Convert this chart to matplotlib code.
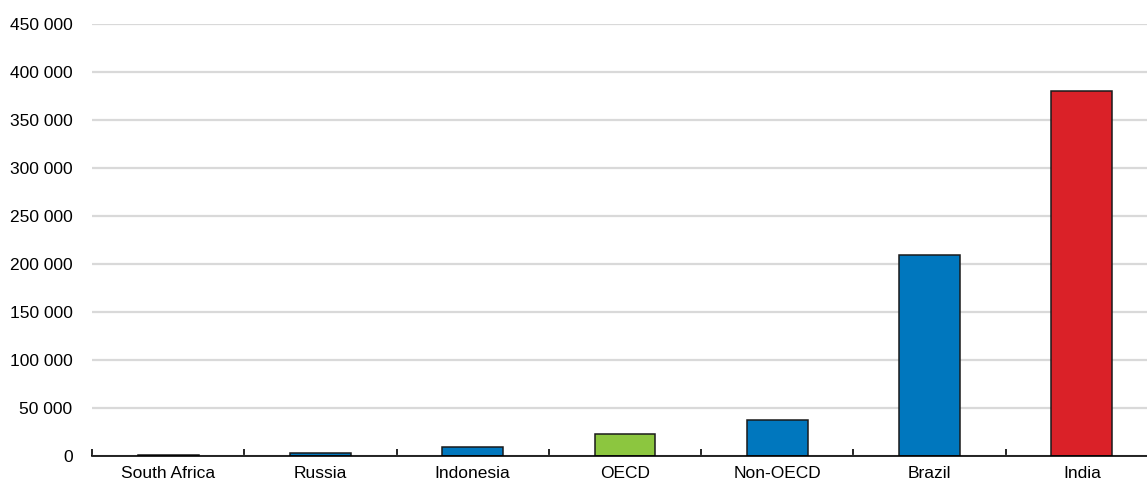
import matplotlib
matplotlib.use("Agg")
import matplotlib.pyplot as plt
from matplotlib.ticker import FuncFormatter, FixedLocator

plt.rcParams["font.family"] = ["Liberation Sans", "DejaVu Sans"]

categories = ["South Africa", "Russia", "Indonesia", "OECD", "Non-OECD", "Brazil", "India"]
values = [700, 3000, 9300, 23400, 37700, 209700, 380500]
colors = ["#0077BE", "#0077BE", "#0077BE", "#8CC63F", "#0077BE", "#0077BE", "#DA2128"]

fig = plt.figure(figsize=(11.47, 4.82), dpi=100)
ax = fig.add_axes([92 / 1147, 26 / 482, 1066 / 1147, 432 / 482])

x = list(range(len(categories)))
ax.bar(x, values, width=0.4, color=colors, edgecolor="#1a1a1a", linewidth=1.1, zorder=3)

ax.set_xlim(-0.5, len(categories) - 0.5)
ax.set_ylim(0, 450000)
ax.set_yticks(range(0, 450001, 50000))
ax.yaxis.set_major_formatter(FuncFormatter(lambda v, _: f"{int(v):,}".replace(",", " ")))
ax.grid(axis="y", color="#D9D9D9", linewidth=1.6, zorder=0)
ax.set_axisbelow(True)

ax.set_xticks(x)
ax.set_xticklabels(categories)
ax.xaxis.set_minor_locator(FixedLocator([i - 0.5 for i in range(len(categories) + 1)]))
ax.tick_params(axis="x", which="major", length=0, pad=7, labelsize=12.5)
ax.tick_params(axis="x", which="minor", direction="in", length=5, width=1.2, color="black")
ax.tick_params(axis="y", length=0, pad=14, labelsize=12.5)

for side in ["left", "right", "top"]:
    ax.spines[side].set_visible(False)
ax.spines["bottom"].set_linewidth(1.2)
ax.spines["bottom"].set_zorder(4)

fig.savefig("out.png", dpi=100)
